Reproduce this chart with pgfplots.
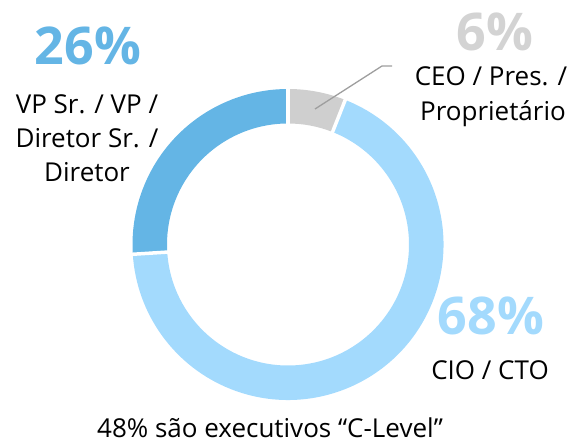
\documentclass[border=0pt]{standalone}
\usepackage{pgfplots}
\pgfplotsset{compat=1.18}
\usepackage{pgfplotstable}
\usepackage{fontspec}
\setmainfont{Open Sans}
\definecolor{midblue}{HTML}{64B5E5}
\definecolor{lightblue}{HTML}{A3DAFD}
\definecolor{greyseg}{HTML}{CFCFCF}
\definecolor{greytext}{HTML}{D3D3D3}
\definecolor{leader}{HTML}{9E9E9E}

\pgfplotstableread{
share
6
68
26
}\sharetable

\begin{document}
\begin{tikzpicture}
\pgfplotstablegetelem{0}{share}\of\sharetable \let\sA\pgfplotsretval
\pgfplotstablegetelem{1}{share}\of\sharetable \let\sB\pgfplotsretval
\pgfplotstablegetelem{2}{share}\of\sharetable \let\sC\pgfplotsretval
\pgfmathsetmacro{\aZero}{90}
\pgfmathsetmacro{\aOne}{90-3.6*\sA}
\pgfmathsetmacro{\aTwo}{\aOne-3.6*\sB}
\pgfmathsetmacro{\aThree}{\aTwo-3.6*\sC}
\def\Ro{155.5pt}
\def\Ri{121pt}
\begin{axis}[x=1pt,y=1pt,xmin=0,xmax=577,ymin=0,ymax=443,
  hide axis, clip=false, scale only axis]
\path (axis cs:0,0) rectangle (axis cs:577,443);
\coordinate (C) at (axis cs:288,198.5);
\fill[greyseg] ([shift={(\aZero:\Ro)}]C) arc[start angle=\aZero,end angle=\aOne,radius=\Ro]
  -- ([shift={(\aOne:\Ri)}]C) arc[start angle=\aOne,end angle=\aZero,radius=\Ri] -- cycle;
\fill[lightblue] ([shift={(\aOne:\Ro)}]C) arc[start angle=\aOne,end angle=\aTwo,radius=\Ro]
  -- ([shift={(\aTwo:\Ri)}]C) arc[start angle=\aTwo,end angle=\aOne,radius=\Ri] -- cycle;
\fill[midblue] ([shift={(\aTwo:\Ro)}]C) arc[start angle=\aTwo,end angle=\aThree,radius=\Ro]
  -- ([shift={(\aThree:\Ri)}]C) arc[start angle=\aThree,end angle=\aTwo,radius=\Ri] -- cycle;
\draw[white,line width=3.5pt] ([shift={(\aZero:118pt)}]C) -- ([shift={(\aZero:159pt)}]C);
\draw[white,line width=3.5pt] ([shift={(\aOne:118pt)}]C) -- ([shift={(\aOne:159pt)}]C);
\draw[white,line width=3.5pt] ([shift={(\aTwo:118pt)}]C) -- ([shift={(\aTwo:159pt)}]C);
\draw[leader,line width=1.3pt] (axis cs:315,334) -- (axis cs:382,377) -- (axis cs:392,377);
% labels
\node[text=midblue,font=\fontsize{52}{60}\selectfont\bfseries] at (axis cs:88,397) {26\%};
\node[anchor=base,font=\fontsize{26}{30}\selectfont] at (axis cs:87,329) {VP Sr. / VP /};
\node[anchor=base,font=\fontsize{26}{30}\selectfont] at (axis cs:87,295) {Diretor Sr. /};
\node[anchor=base,font=\fontsize{26}{30}\selectfont] at (axis cs:87,261) {Diretor};
\node[text=greytext,font=\fontsize{52}{60}\selectfont\bfseries] at (axis cs:495,411) {6\%};
\node[anchor=base,font=\fontsize{26}{30}\selectfont] at (axis cs:491,357) {CEO / Pres. /};
\node[anchor=base,font=\fontsize{26}{30}\selectfont] at (axis cs:493,322) {Proprietário};
\node[text=lightblue,font=\fontsize{52}{60}\selectfont\bfseries] at (axis cs:491,127) {68\%};
\node[anchor=base,font=\fontsize{26}{30}\selectfont] at (axis cs:490,63) {CIO / CTO};
\node[anchor=base,font=\fontsize{26}{30}\selectfont] at (axis cs:270,5) {48\% são executivos “C-Level”};
\end{axis}
\end{tikzpicture}
\end{document}
